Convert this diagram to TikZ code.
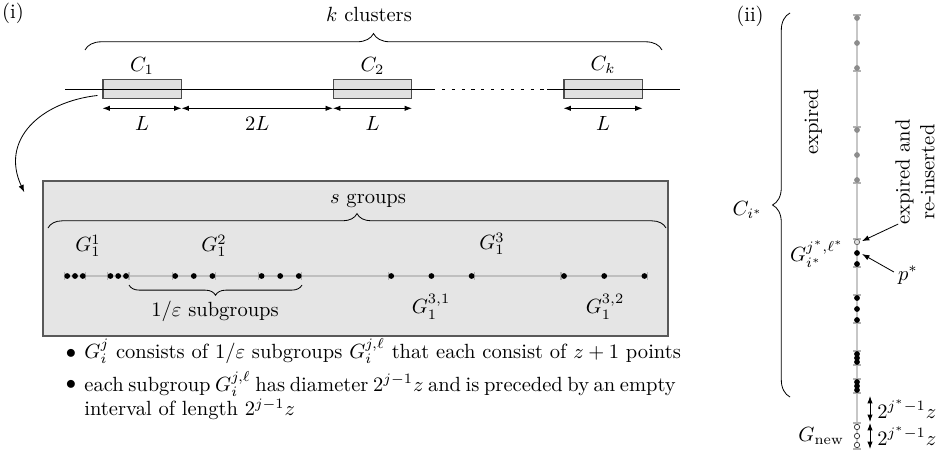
\documentclass[tikz,border=0pt]{standalone}
\usepackage{amsmath,amssymb}
\usetikzlibrary{arrows.meta,decorations.pathreplacing,positioning}

\begin{document}
\begin{tikzpicture}[x=0.487pt, y=-0.487pt,
  clubox/.style={rectangle, draw=black!70, line width=0.5pt, fill=black!12,
    minimum width=38pt, minimum height=9.7pt, inner sep=0pt},
  grpbox/.style={rectangle, draw=black!65, line width=0.7pt, fill=black!10,
    minimum width=304.4pt, minimum height=75.5pt, inner sep=0pt},
  dimarrow/.style={{Latex[length=3.6pt,width=2.6pt]}-{Latex[length=3.6pt,width=2.6pt]}},
  ptr/.style={-{Latex[length=3.6pt,width=2.6pt]}},
  bigbrace/.style={decorate, decoration={brace, amplitude=#1}},
  blackpt/.style={circle, fill=black, inner sep=0pt, minimum size=2.8pt},
  oldpt/.style={circle, fill=black!45, inner sep=0pt, minimum size=2.8pt},
  newpt/.style={circle, draw=black!80, fill=white, line width=0.35pt,
    inner sep=0pt, minimum size=2.6pt},
  reinpt/.style={circle, draw=black!60, fill=black!12, line width=0.35pt,
    inner sep=0pt, minimum size=2.6pt},
  tickmark/.style={black!30, line width=0.5pt},
  pointline/.style={black!25, line width=0.8pt}
]
\useasboundingbox (0,0) rectangle (941,454);

% ---------- (i) ----------
\node (lab1) at (13,13) {(i)};
\node (kclu) at (369,14) {$k$ clusters};
\draw[bigbrace=8pt] (85,50) -- (662,50);

\node[clubox] (c1) at (142,89) {};
\node[clubox] (c2) at (372.5,89) {};
\node[clubox] (ck) at (603,89) {};
\draw (65,89) -- (432,89);
\draw[dash pattern=on 1.5pt off 3.3pt] (432,89) -- (547,89);
\draw (547,89) -- (680,89);
\node (c1lab) at (142,66) {$C_1$};
\node (c2lab) at (372.5,66) {$C_2$};
\node (cklab) at (603,65) {$C_k$};

\draw[dimarrow] ([yshift=-4.3pt]c1.south west) -- ([yshift=-4.3pt]c1.south east)
  node[midway, below=0.5pt] {$L$};
\draw[dimarrow] ([yshift=-4.3pt]c1.south east) -- ([yshift=-4.3pt]c2.south west)
  node[midway, below=0.5pt] {$2L$};
\draw[dimarrow] ([yshift=-4.3pt]c2.south west) -- ([yshift=-4.3pt]c2.south east)
  node[midway, below=0.5pt] {$L$};
\draw[dimarrow] ([yshift=-4.3pt]ck.south west) -- ([yshift=-4.3pt]ck.south east)
  node[midway, below=0.5pt] {$L$};

\node[grpbox] (gbox) at (355.5,258.5) {};
\coordinate (zoomend) at ([shift={(-18,12)}]gbox.north west);
\draw[ptr] ([shift={(-5,-4)}]c1.south west) .. controls (40,102) and (0,140) .. (zoomend);

\node (sgrp) at (368,201) {$s$ groups};
\draw[bigbrace=7pt] (48,228) -- (666,228);
\node (g11) at (88,246) {$G_1^1$};
\node (g12) at (214,246) {$G_1^2$};
\node (g13) at (492,244) {$G_1^3$};

\draw[pointline] (64.2,276) -- (647.4,276);
\foreach \a/\b [count=\n] in {64.2/85.8, 107.4/129, 172.2/215.4, 258.6/301.8, 388.2/474.6, 561/647.4}
  {\draw[tickmark] (\a,272) -- (\a,280);
   \draw[tickmark] (\b,272) -- (\b,280);
   \node[blackpt] (s\n a) at (\a+3,276) {};
   \node[blackpt] (s\n b) at ({(\a+\b)/2},276) {};
   \node[blackpt] (s\n c) at (\b-3,276) {};}

\draw[bigbrace=5pt] (302,285) -- (129,285);
\node (subgrp) at (215,311) {$1/\varepsilon$ subgroups};
\node (g131) at (431,307) {$G_1^{3,1}$};
\node (g132) at (605,307) {$G_1^{3,2}$};

\node[anchor=base] (bul1) at (71,358) {$\bullet$};
\node[anchor=base west, inner sep=0pt] (item1) at (84,358)
  {$G_i^j$ consists of $1/\varepsilon$ subgroups $G_i^{j,\ell}$ that each consist of $z+1$ points};
\node[anchor=base] (bul2) at (71,389) {$\bullet$};
\node[anchor=north west, inner sep=0pt, align=left] (item2) at (84,371)
  {\makebox[288pt][s]{each subgroup $G_i^{j,\ell}$ has diameter $2^{j-1}z$ and is preceded by an empty}\\
   interval of length $2^{j-1}z$};

% ---------- (ii) ----------
\node (lab2) at (750,16) {(ii)};
\draw[black!22, line width=0.7pt] (857,15) -- (857,449);
\draw[bigbrace=8.5pt] (790,397) -- (790,13);
\node[anchor=east] (cistar) at (770,210) {$C_{i^*}$};
\node[rotate=90] (expd) at (813,122) {expired};

\foreach \a/\b/\s [count=\n] in {15/71/oldpt, 127/183/oldpt, 295/323/blackpt, 351/365/blackpt, 379/393/blackpt}
  {\draw[tickmark] (853,\a) -- (861,\a);
   \draw[tickmark] (853,\b) -- (861,\b);
   \node[\s] (v\n a) at (857,\a+3) {};
   \node[\s] (v\n b) at (857,{(\a+\b)/2}) {};
   \node[\s] (v\n c) at (857,\b-3) {};}

\draw[tickmark] (853,239) -- (861,239);
\draw[tickmark] (853,267) -- (861,267);
\node[reinpt] (rein) at (857,242) {};
\node[blackpt] (pstar) at (857,253) {};
\node[blackpt] (plast) at (857,264) {};
\node[anchor=east] (gstar) at (851,254) {$G_{i^*}^{j^*,\ell^*}$};

\draw[tickmark] (853,423) -- (861,423);
\draw[tickmark] (853,449) -- (861,449);
\node[newpt] (n1) at (857,427) {};
\node[newpt] (n2) at (857,436) {};
\node[newpt] (n3) at (857,445) {};
\node[anchor=east] (gnew) at (851,436) {$G_{\text{new}}$};

\coordinate (e0) at (870,396);
\coordinate (e1) at (870,422);
\coordinate (e2) at (870,423);
\coordinate (e3) at (870,449);
\draw[dimarrow] (e0) -- (e1) node[midway, right=0pt] {$2^{j^*-1}z$};
\draw[dimarrow] (e2) -- (e3) node[midway, right=0pt] {$2^{j^*-1}z$};

\node[rotate=90, align=center] (reinlab) at (915,172) {expired and\\re-inserted};
\draw[ptr, shorten >=1pt] ([shift={(10,-8)}]reinlab.north west) -- (rein.east);
\node (pstarlab) at (908,275) {$p^*$};
\draw[ptr, shorten >=1pt] ([shift={(3,-3)}]pstarlab.west) -- (pstar.east);
\end{tikzpicture}
\end{document}
